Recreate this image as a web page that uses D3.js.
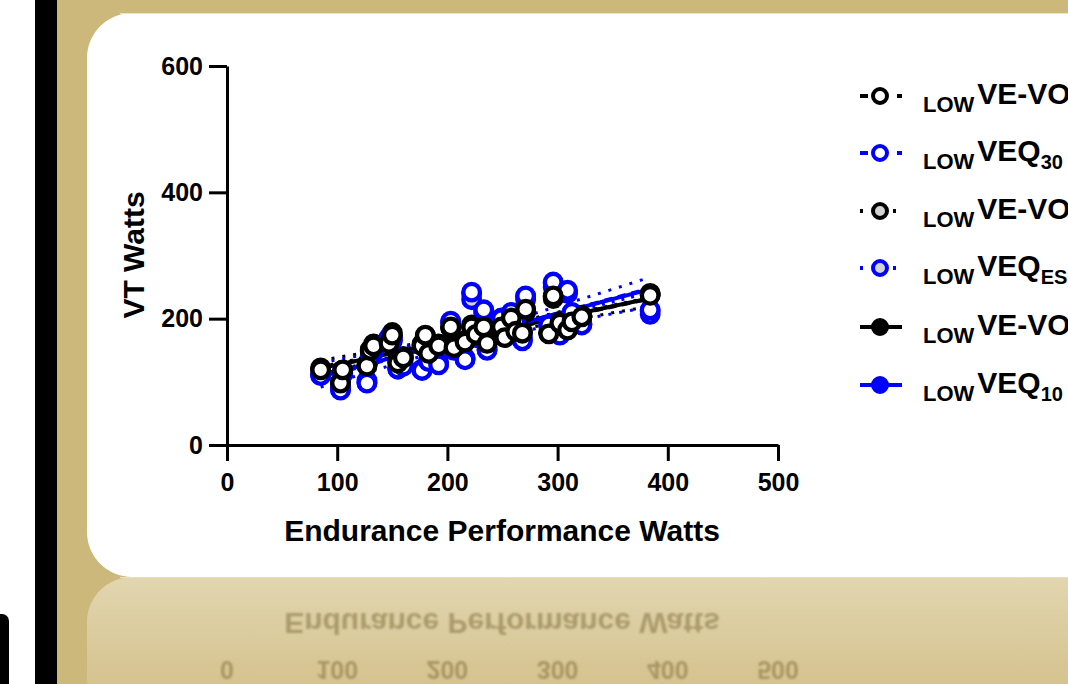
<!DOCTYPE html>
<html><head><meta charset="utf-8">
<script src="https://cdn.jsdelivr.net/npm/d3@7"></script>
<style>html,body{margin:0;padding:0;overflow:hidden;background:#fff}svg{display:block}</style>
</head><body>
<script>
// ---------------- data ----------------
const xTicks = [0, 100, 200, 300, 400, 500];
const yTicks = [0, 200, 400, 600];
const xLabel = "Endurance Performance Watts";
const yLabel = "VT Watts";

const subjectWatts = [85, 103, 105, 127, 130, 133, 147, 150, 155, 160, 177, 180, 183, 192, 203, 206, 216, 222, 226, 233, 236, 249, 252, 258, 262, 268, 271, 292, 296, 302, 309, 313, 322, 384];

const lowVEVO2_30 = [119, 98, 119, 125, 150, 157, 161, 174, 130, 138, 157, 174, 145, 157, 187, 154, 163, 187, 175, 187, 161, 187, 170, 201, 180, 177, 215, 176, 236, 193, 182, 195, 203, 237];
const lowVEQ30   = [110, 87, 112, 98, 138, 150, 170, 165, 120, 125, 118, 160, 132, 127, 196, 150, 135, 242, 170, 214, 150, 200, 180, 210, 195, 165, 236, 190, 258, 174, 245, 210, 190, 214];
const lowVEVO2_ES = [122, 100, 115, 128, 148, 160, 165, 178, 135, 140, 160, 170, 150, 160, 185, 158, 165, 190, 178, 185, 165, 185, 175, 198, 182, 180, 210, 178, 232, 195, 185, 198, 205, 240];
const lowVEQES   = [112, 92, 118, 102, 140, 148, 168, 170, 122, 128, 120, 165, 130, 130, 192, 152, 138, 230, 172, 208, 155, 198, 178, 205, 192, 170, 230, 188, 250, 178, 240, 205, 192, 207];
const lowVEVO2_10 = [120, 99, 118, 126, 151, 156, 162, 173, 131, 137, 158, 173, 146, 158, 186, 155, 164, 186, 176, 186, 162, 186, 171, 200, 181, 178, 214, 177, 235, 194, 183, 196, 204, 238];
const lowVEQ10   = [111, 88, 113, 99, 139, 151, 169, 166, 121, 126, 119, 161, 133, 128, 195, 151, 136, 240, 171, 212, 151, 201, 181, 209, 196, 166, 235, 191, 256, 175, 243, 209, 191, 212];

const seriesNames = [
  {pre: "LOW", main: "VE-VO", sub: "2 30s"},
  {pre: "LOW", main: "VEQ", sub: "30"},
  {pre: "LOW", main: "VE-VO", sub: "2 ES"},
  {pre: "LOW", main: "VEQ", sub: "ES"},
  {pre: "LOW", main: "VE-VO", sub: "2 10"},
  {pre: "LOW", main: "VEQ", sub: "10"}
];
const seriesValues = [lowVEVO2_30, lowVEQ30, lowVEVO2_ES, lowVEQES, lowVEVO2_10, lowVEQ10];

// ---------------- styles ----------------
const BLUE = "#0000ff", GREY = "#d3d3d3";
const styles = [
  {stroke: "#000", fill: "#fff", dash: "8 6", legDash: "8 29 5 100", band: false},
  {stroke: BLUE, fill: "#fff", dash: "8 6", legDash: "8 29 5 100", band: false},
  {stroke: "#000", fill: GREY, dash: "3 7", legDash: "3 30 3 100", band: true},
  {stroke: BLUE, fill: GREY, dash: "3 7", legDash: "3 30 3 100", band: true},
  {stroke: "#000", fill: "#000", dash: null, legDash: null, band: false},
  {stroke: BLUE, fill: BLUE, dash: null, legDash: null, band: false}
];

const W = 1068, H = 684;
const FONT = "Arial, 'Liberation Sans', sans-serif";
const svg = d3.select("body").append("svg").attr("width", W).attr("height", H)
  .style("font-family", FONT);

const defs = svg.append("defs");
const grad = defs.append("linearGradient").attr("id", "refl").attr("x1", 0).attr("y1", 0).attr("x2", 0).attr("y2", 1);
grad.append("stop").attr("offset", "0%").attr("stop-color", "#e2d6b0");
grad.append("stop").attr("offset", "100%").attr("stop-color", "#d3c08a");
const blur = defs.append("filter").attr("id", "blur");
blur.append("feGaussianBlur").attr("stdDeviation", 0.9);
const clip = defs.append("clipPath").attr("id", "reflClip");
clip.append("rect").attr("x", 87).attr("y", 577).attr("width", 1000).attr("height", 120);

// background
svg.append("rect").attr("width", W).attr("height", H).attr("fill", "#fff");
svg.append("rect").attr("x", 35).attr("y", 0).attr("width", 22).attr("height", H).attr("fill", "#000");
svg.append("rect").attr("x", 57).attr("y", 0).attr("width", W - 57).attr("height", H).attr("fill", "#cdb87c");
svg.append("path").attr("d", "M0,614 H2 A7,7 0 0 1 9,621 V684 H0 Z").attr("fill", "#000");

// reflection panel
svg.append("path").attr("d", "M132,577 H1100 V700 H87 V622 A45,45 0 0 1 132,577 Z").attr("fill", "url(#refl)");
// main panel
svg.append("path").attr("d", "M132,13 H1100 V577 H132 A45,45 0 0 1 87,532 V58 A45,45 0 0 1 132,13 Z")
  .attr("fill", "#fff");
svg.append("line").attr("x1", 120).attr("x2", 1100).attr("y1", 13.5).attr("y2", 13.5).attr("stroke", "#ece2c4").attr("stroke-width", 1);
svg.append("line").attr("x1", 120).attr("x2", 1100).attr("y1", 577.5).attr("y2", 577.5).attr("stroke", "#e8dec0").attr("stroke-width", 1);

// scales
const x = d3.scaleLinear().domain([0, 500]).range([227, 778]);
const y = d3.scaleLinear().domain([0, 600]).range([445, 66]);

// regression helpers
function fit(xs, ys) {
  const n = xs.length, mx = d3.mean(xs), my = d3.mean(ys);
  let sxx = 0, sxy = 0;
  xs.forEach((v, i) => { sxx += (v - mx) ** 2; sxy += (v - mx) * (ys[i] - my); });
  const b = sxy / sxx, a = my - b * mx;
  let sse = 0; xs.forEach((v, i) => { sse += (ys[i] - (a + b * v)) ** 2; });
  const s = Math.sqrt(sse / (n - 2));
  return {a, b, s, n, mx, sxx};
}
const xmin = d3.min(subjectWatts), xmax = d3.max(subjectWatts);
const lineGen = d3.line().x(d => x(d[0])).y(d => y(d[1]));
const tcrit = 2.037;

const gLines = svg.append("g");
seriesValues.forEach((vals, i) => {
  const st = styles[i], f = fit(subjectWatts, vals);
  const xsSteps = d3.range(0, 41).map(k => xmin + (xmax - xmin) * k / 40);
  if (st.band) {
    [-1, 1].forEach(sgn => {
      const pts = xsSteps.map(xv => {
        const se = f.s * Math.sqrt(1 / f.n + (xv - f.mx) ** 2 / f.sxx);
        return [xv, f.a + f.b * xv + sgn * tcrit * se];
      });
      gLines.append("path").attr("d", lineGen(pts)).attr("fill", "none")
        .attr("stroke", st.stroke).attr("stroke-width", 3).attr("stroke-dasharray", "3 8");
    });
  }
  gLines.append("path").attr("d", lineGen([[xmin, f.a + f.b * xmin], [xmax, f.a + f.b * xmax]]))
    .attr("fill", "none").attr("stroke", st.stroke).attr("stroke-width", 4)
    .attr("stroke-dasharray", st.dash);
});

// points (series 1 on top)
const gPts = svg.append("g");
for (let i = seriesValues.length - 1; i >= 0; i--) {
  const st = styles[i];
  gPts.append("g").selectAll("circle").data(seriesValues[i]).join("circle")
    .attr("cx", (d, k) => x(subjectWatts[k])).attr("cy", d => y(d)).attr("r", 8.3)
    .attr("fill", st.fill).attr("stroke", st.stroke).attr("stroke-width", 4.3);
}

// axes
const gx = svg.append("g").attr("transform", "translate(0,445)");
gx.call(d3.axisBottom(x).tickValues(xTicks).tickSize(16).tickSizeOuter(0).tickPadding(12).tickFormat(d3.format("d")));
const gy = svg.append("g").attr("transform", "translate(227,0)");
gy.call(d3.axisLeft(y).tickValues(yTicks).tickSize(18).tickSizeOuter(0).tickPadding(6));
[gx, gy].forEach(g => {
  g.select(".domain").attr("stroke-width", 3).attr("stroke", "#000");
  g.selectAll(".tick line").attr("stroke-width", 3).attr("stroke", "#000");
  g.selectAll(".tick text").attr("font-size", 25).attr("font-weight", "bold").attr("fill", "#000")
    .attr("font-family", FONT);
});

svg.append("text").attr("x", 502).attr("y", 541).attr("text-anchor", "middle")
  .attr("font-size", 30).attr("font-weight", "bold").text(xLabel);
svg.append("text").attr("transform", "translate(144,255) rotate(-90)").attr("text-anchor", "middle")
  .attr("font-size", 30).attr("font-weight", "bold").text(yLabel);

// legend
const rowsY = [96, 153, 211, 268, 327, 385];
const gLeg = svg.append("g");
seriesNames.forEach((nm, i) => {
  const st = styles[i], ry = rowsY[i];
  gLeg.append("line").attr("x1", 860).attr("x2", 902).attr("y1", ry).attr("y2", ry)
    .attr("stroke", st.stroke).attr("stroke-width", 4).attr("stroke-dasharray", st.legDash);
  gLeg.append("circle").attr("cx", 880).attr("cy", ry).attr("r", 7)
    .attr("fill", st.fill).attr("stroke", st.stroke).attr("stroke-width", 4);
  const t = gLeg.append("text").attr("x", 923).attr("font-weight", "bold").attr("fill", "#000");
  t.append("tspan").attr("y", ry + 16).attr("font-size", 22).text(nm.pre);
  t.append("tspan").attr("y", ry + 8).attr("dx", 3).attr("font-size", 30).text(nm.main);
  t.append("tspan").attr("y", ry + 16).attr("font-size", 20).text(nm.sub);
});

// reflection (mirror of the lower part of the chart)
const gR = svg.append("g").attr("clip-path", "url(#reflClip)");
const gRi = gR.append("g").attr("transform", "translate(0,1154) scale(1,-1)")
  .attr("opacity", 0.45).attr("filter", "url(#blur)");
gRi.append("g").selectAll("text").data(xTicks).join("text")
  .attr("x", d => x(d)).attr("y", 493).attr("text-anchor", "middle")
  .attr("font-size", 25).attr("font-weight", "bold").attr("fill", "#6f5d2c").text(d => d);
gRi.append("text").attr("x", 502).attr("y", 541).attr("text-anchor", "middle")
  .attr("font-size", 30).attr("font-weight", "bold").attr("fill", "#6f5d2c").text(xLabel);
</script>
</body></html>
